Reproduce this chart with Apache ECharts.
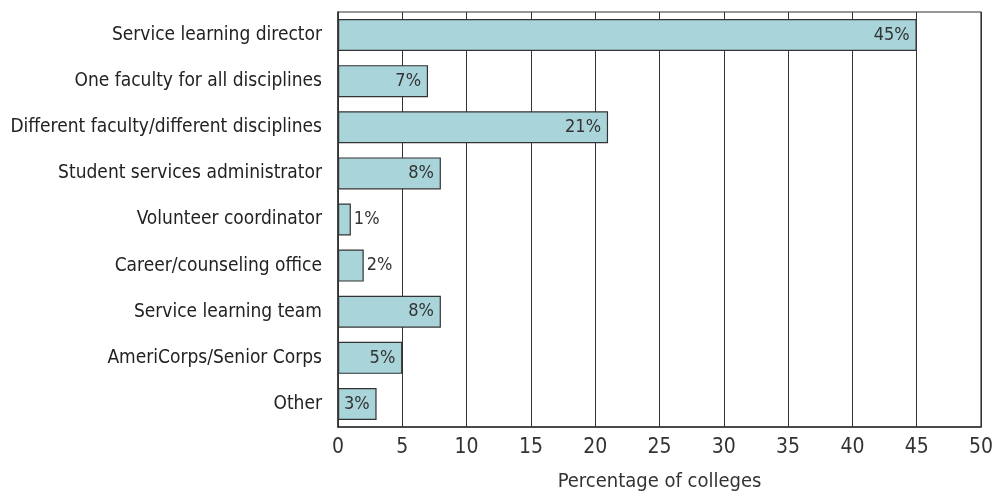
<!DOCTYPE html>
<html><head><meta charset="utf-8">
<script src="https://cdn.jsdelivr.net/npm/echarts@6/dist/echarts.min.js"></script>
<style>html,body{margin:0;padding:0;background:#fff}#c{width:998px;height:497px}</style>
</head><body><div id="c"></div>
<script>
const categories = ["Service learning director","One faculty for all disciplines","Different faculty/different disciplines","Student services administrator","Volunteer coordinator","Career/counseling office","Service learning team","AmeriCorps/Senior Corps","Other"];
const values = [45,7,21,8,1,2,8,5,3];
const xTicks = [0,5,10,15,20,25,30,35,40,45,50];
const FONT = '"Liberation Sans Narrow","DejaVu Sans Condensed",sans-serif';
const chart = echarts.init(document.getElementById('c'));
chart.setOption({
  animation:false,
  grid:{left:338,right:17,top:12,bottom:67,show:true,borderColor:'#333',borderWidth:1.2,backgroundColor:'transparent'},
  xAxis:{type:'value',min:xTicks[0],max:xTicks[xTicks.length-1],interval:5,
    name:'Percentage of colleges',nameLocation:'middle',nameGap:45,
    nameTextStyle:{fontFamily:FONT,fontSize:20,color:'#333'},
    axisLine:{show:true,lineStyle:{color:'#333',width:1.5}},axisTick:{show:false},
    axisLabel:{fontFamily:FONT,fontSize:21,color:'#333',margin:10},
    splitLine:{show:true,lineStyle:{color:'#333',width:1}}},
  yAxis:{type:'category',data:categories,inverse:true,
    axisLine:{show:true,lineStyle:{color:'#333',width:1.5}},axisTick:{show:false},
    axisLabel:{fontFamily:FONT,fontSize:19,color:'#222',margin:16},
    splitLine:{show:false}},
  series:[{type:'bar',barWidth:32,
    data:values.map(v=>({value:v,label:v<3?{position:'right',distance:3}:{}})),
    itemStyle:{color:'#a8d4da',borderColor:'#333',borderWidth:1.2},
    label:{show:true,position:'insideRight',distance:7,formatter:'{c}%',fontFamily:FONT,fontSize:18,color:'#333'}}]
});
</script></body></html>
